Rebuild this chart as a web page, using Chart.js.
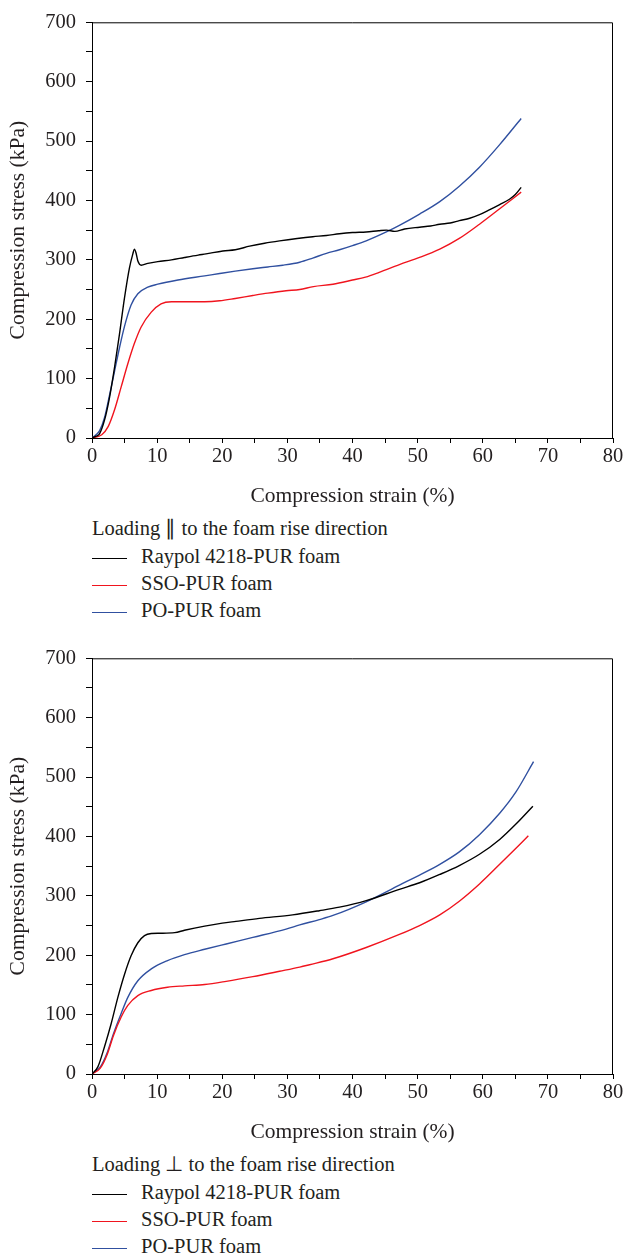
<!DOCTYPE html>
<html>
<head>
<meta charset="utf-8">
<script src="https://cdn.jsdelivr.net/npm/chart.js@4.4.1/dist/chart.umd.min.js"></script>
<style>
  html, body { margin: 0; padding: 0; background: #fff; }
  #wrap { position: relative; width: 625px; height: 1256px; overflow: hidden; font-family: 'Liberation Serif', 'Times New Roman', serif; color: #231f20; }
  .cv { position: absolute; left: 0; width: 625px; height: 510px; }
  .lg { position: absolute; font-size: 20.5px; line-height: 27px; white-space: nowrap; }
  .ln { position: absolute; left: 92px; width: 35px; height: 0; border-top: 1.4px solid #000; }
</style>
</head>
<body>
<div id="wrap">
  <div class="cv" style="top:0px"><canvas id="c1" width="625" height="510"></canvas></div>
  <div class="cv" style="top:636px"><canvas id="c2" width="625" height="510"></canvas></div>

  <div class="lg" style="left:92px; top:515px;">Loading ∥ to the foam rise direction</div>
  <div class="ln" style="top:558px; border-color:#000;"></div>
  <div class="lg" style="left:141px; top:543px;">Raypol 4218-PUR foam</div>
  <div class="ln" style="top:585px; border-color:#f0141e;"></div>
  <div class="lg" style="left:141px; top:570px;">SSO-PUR foam</div>
  <div class="ln" style="top:612px; border-color:#3050a0;"></div>
  <div class="lg" style="left:141px; top:597px;">PO-PUR foam</div>

  <div class="lg" style="left:92px; top:1151px;">Loading ⊥ to the foam rise direction</div>
  <div class="ln" style="top:1194px; border-color:#000;"></div>
  <div class="lg" style="left:141px; top:1179px;">Raypol 4218-PUR foam</div>
  <div class="ln" style="top:1221px; border-color:#f0141e;"></div>
  <div class="lg" style="left:141px; top:1206px;">SSO-PUR foam</div>
  <div class="ln" style="top:1248px; border-color:#3050a0;"></div>
  <div class="lg" style="left:141px; top:1233px;">PO-PUR foam</div>
</div>
<script>
// ---------- Data: loading parallel to foam rise direction ----------
const parRaypolStrain = [0, 0.64, 1.15, 1.92, 2.69, 3.45, 4.22, 4.99, 5.76, 6.27, 6.5, 6.75, 7.04, 7.55, 8.57, 10.1, 12.2, 14.2, 16.3, 17.5, 20.1, 22, 24.2, 26.5, 28.8, 31.5, 33.9, 36, 38, 40, 42.1, 44, 45.2, 46.5, 48, 50.3, 52, 53.4, 55, 56.4, 58, 59.5, 61, 62.6, 64.1, 65, 65.9];
const parRaypolStress = [0, 3, 7, 30, 68, 118, 175, 236, 287, 310, 318, 312, 298, 291, 294, 297, 300, 304, 308, 310, 315, 317, 323, 328, 332, 336, 339, 341, 344, 346, 347, 349, 350, 348, 352, 355, 357, 360, 362, 366, 370, 376, 384, 393, 402, 410, 422];

const parSsoStrain = [0, 1.5, 2.5, 3.45, 4.48, 5.5, 6.5, 7.55, 9.1, 10.6, 12.2, 14, 17.3, 19.6, 22, 24.7, 27, 29.8, 31.9, 34, 37, 40, 42, 44.1, 47.2, 50.3, 53.4, 56.4, 59.5, 62.6, 65.9];
const parSsoStress = [0, 5.5, 19.5, 47, 86, 125, 159, 187, 212, 226, 229.5, 229.5, 229.5, 231, 235, 240, 244, 248, 250, 255, 259, 266, 271, 279, 292, 304, 318, 336, 360, 386, 414];

const parPoStrain = [0, 1.15, 1.92, 2.69, 3.45, 4.22, 4.99, 6.0, 7.04, 8.57, 10.1, 13.2, 17.3, 19.6, 22, 24.7, 27, 29.3, 31.9, 33.9, 36, 38, 40, 42.1, 45.2, 47.2, 50.3, 53.4, 56.4, 59.5, 62.6, 65.9];
const parPoStress = [0, 12, 34, 72, 112, 152, 188, 224, 243, 254, 259, 266, 273, 277, 281, 285, 288, 291, 296, 303, 311, 317, 324, 332, 347, 358, 377, 398, 424, 456, 494, 538];

// ---------- Data: loading perpendicular to foam rise direction ----------
const perRaypolStrain = [0, 0.9, 1.92, 2.95, 3.97, 5.0, 6.0, 7.04, 8.06, 9.1, 10.4, 12.7, 14.2, 17.3, 20, 22.1, 25.7, 30.8, 34.9, 38, 42.1, 47.2, 50.3, 53.4, 56.4, 59.5, 62.6, 65.1, 67.7];
const perRaypolStress = [0, 12, 46, 85, 129, 168, 199, 221, 233, 236.5, 237, 238, 242, 249, 254, 257, 262, 268, 275, 281, 292, 311, 322, 336, 351, 370, 395, 421, 451];

const perSsoStrain = [0, 1.28, 2.3, 3.3, 4.48, 5.5, 7.04, 9.1, 11.6, 14.2, 17.3, 20.6, 24.7, 28.8, 31.9, 33.4, 37, 42.1, 47.2, 50.3, 53.4, 56.4, 59.5, 62.6, 65.1, 67.0];
const perSsoStress = [0, 10, 32, 65, 96, 115.5, 132, 140.6, 146, 148.4, 150.6, 156, 164, 173, 180, 184, 194, 213, 235, 250, 268, 291, 320, 353, 380, 401];

const perPoStrain = [0, 1.28, 2.3, 3.3, 4.48, 5.5, 7.04, 9.1, 11.6, 14.2, 17.3, 20.6, 24.7, 29.8, 31.9, 34.9, 37, 42.1, 47.2, 50.3, 53.4, 56.4, 59.5, 62.6, 65.1, 67.8];
const perPoStress = [0, 12, 35, 68, 102, 129, 157, 177, 191, 201, 210, 219, 230, 244, 251, 260, 267, 290, 318, 335, 353, 374, 403, 439, 475, 526];

const seriesNames = ['Raypol 4218-PUR foam', 'SSO-PUR foam', 'PO-PUR foam'];
const seriesColors = ['#000000', '#f0141e', '#3050a0'];
const xTitle = 'Compression strain (%)';
const yTitle = 'Compression stress (kPa)';
const xMin = 0, xMax = 80, xStep = 5, xLabelEvery = 10;
const yMin = 0, yMax = 700, yStep = 50, yLabelEvery = 100;

Chart.defaults.font.family = "'Liberation Serif', 'Times New Roman', serif";
Chart.defaults.font.size = 20.5;
Chart.defaults.color = '#231f20';

const pts = (xs, ys) => xs.map((x, i) => ({ x: x, y: ys[i] }));

const framePlugin = {
  id: 'frame',
  afterDatasetsDraw(chart) {
    const a = chart.chartArea, ctx = chart.ctx;
    ctx.save();
    ctx.strokeStyle = '#000';
    ctx.lineWidth = 1;
    ctx.beginPath();
    ctx.moveTo(a.left, a.top + 0.5);
    ctx.lineTo(a.right - 0.5, a.top + 0.5);
    ctx.lineTo(a.right - 0.5, a.bottom);
    ctx.stroke();
    ctx.restore();
  }
};

function makeChart(id, series) {
  return new Chart(document.getElementById(id), {
    type: 'line',
    data: {
      datasets: series.map((s, i) => ({
        label: seriesNames[i],
        data: pts(s[0], s[1]),
        borderColor: seriesColors[i],
        backgroundColor: seriesColors[i],
        borderWidth: 1.4,
        pointRadius: 0,
        cubicInterpolationMode: 'monotone',
        fill: false
      }))
    },
    options: {
      responsive: false,
      animation: false,
      events: [],
      layout: { padding: { top: 20, right: 12, left: 0, bottom: 0 } },
      plugins: { legend: { display: false }, tooltip: { enabled: false } },
      scales: {
        x: {
          type: 'linear', min: xMin, max: xMax,
          afterFit: s => { s.height = 72; },
          border: { display: true, color: '#000', width: 1 },
          grid: { display: true, drawOnChartArea: false, drawTicks: true, tickLength: 5, color: '#000' },
          ticks: { stepSize: xStep, autoSkip: false, maxRotation: 0, padding: 1, color: '#231f20',
                   callback: v => (v % xLabelEvery === 0 ? String(v) : '') },
          title: { display: true, text: xTitle, color: '#231f20', font: { size: 21.5 }, padding: { top: 0, bottom: 1 } }
        },
        y: {
          type: 'linear', min: yMin, max: yMax,
          afterFit: s => { s.width = 92; },
          border: { display: true, color: '#000', width: 1 },
          grid: { display: true, drawOnChartArea: false, drawTicks: true, tickLength: 6, color: '#000' },
          ticks: { stepSize: yStep, autoSkip: false, padding: 10, color: '#231f20',
                   callback: v => (v % yLabelEvery === 0 ? String(v) : '') },
          title: { display: true, text: yTitle, color: '#231f20', font: { size: 21.5 }, padding: { top: 5, bottom: 0 } }
        }
      }
    },
    plugins: [framePlugin]
  });
}

makeChart('c1', [[parRaypolStrain, parRaypolStress], [parSsoStrain, parSsoStress], [parPoStrain, parPoStress]]);
makeChart('c2', [[perRaypolStrain, perRaypolStress], [perSsoStrain, perSsoStress], [perPoStrain, perPoStress]]);
</script>
</body>
</html>
